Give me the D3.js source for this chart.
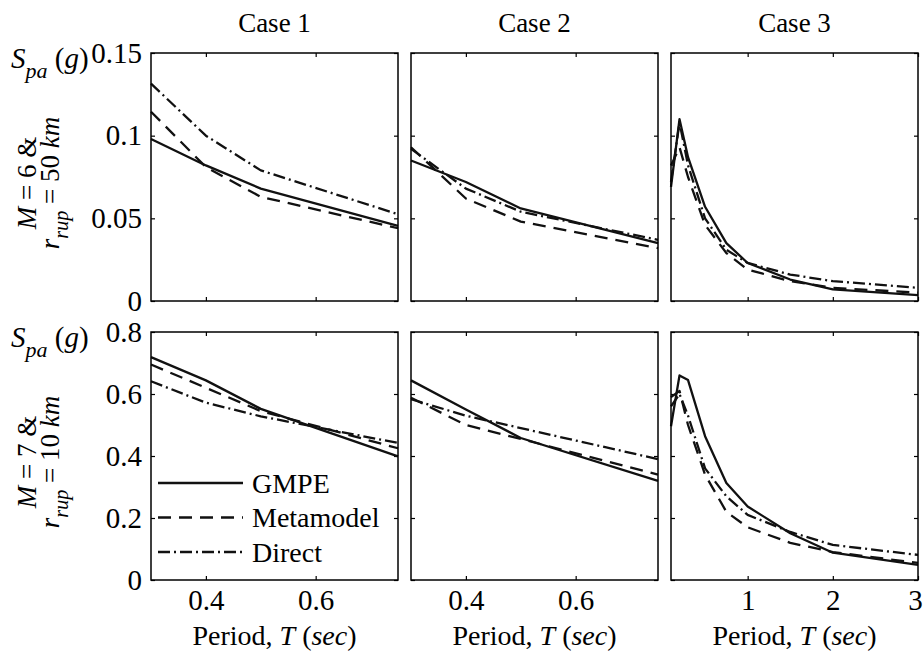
<!DOCTYPE html>
<html>
<head>
<meta charset="utf-8">
<script src="https://cdn.jsdelivr.net/npm/d3@7"></script>
<style>
  body { margin: 0; background: #fff; }
  svg text { font-family: "Liberation Serif", "Times New Roman", Times, "DejaVu Serif", serif; fill: #000; }
</style>
</head>
<body>
<svg id="chart" width="924" height="656"></svg>
<script>
// periods (sec)
var periodsShort = [0.3, 0.4, 0.5, 0.75];
var periodsLong = [0.1, 0.2, 0.3, 0.5, 0.75, 1, 1.5, 2, 3];
var caseNames = ["Case 1", "Case 2", "Case 3"];
var seriesNames = ["GMPE", "Metamodel", "Direct"];

// M = 6 & r_rup = 50 km
var m6Case1Gmpe = [0.098, 0.082, 0.068, 0.0455];
var m6Case1Meta = [0.1145, 0.081, 0.063, 0.044];
var m6Case1Direct = [0.1315, 0.1, 0.079, 0.0525];
var m6Case2Gmpe = [0.085, 0.072, 0.056, 0.035];
var m6Case2Meta = [0.093, 0.062, 0.048, 0.032];
var m6Case2Direct = [0.092, 0.068, 0.054, 0.037];
var m6Case3Gmpe = [0.069, 0.11, 0.087, 0.057, 0.035, 0.023, 0.013, 0.007, 0.0036];
var m6Case3Meta = [0.082, 0.093, 0.075, 0.046, 0.029, 0.019, 0.012, 0.008, 0.005];
var m6Case3Direct = [0.072, 0.108, 0.082, 0.05, 0.031, 0.023, 0.016, 0.012, 0.008];

// M = 7 & r_rup = 10 km
var m7Case1Gmpe = [0.719, 0.644, 0.552, 0.399];
var m7Case1Meta = [0.695, 0.62, 0.545, 0.425];
var m7Case1Direct = [0.641, 0.572, 0.528, 0.442];
var m7Case2Gmpe = [0.644, 0.55, 0.458, 0.32];
var m7Case2Meta = [0.588, 0.5, 0.455, 0.34];
var m7Case2Direct = [0.583, 0.53, 0.49, 0.39];
var m7Case3Gmpe = [0.496, 0.66, 0.645, 0.464, 0.313, 0.237, 0.151, 0.088, 0.0485];
var m7Case3Meta = [0.59, 0.61, 0.5, 0.34, 0.22, 0.17, 0.12, 0.09, 0.055];
var m7Case3Direct = [0.56, 0.6, 0.53, 0.36, 0.27, 0.21, 0.155, 0.113, 0.081];

var yTicksTop = [0, 0.05, 0.1, 0.15];
var yTicksBottom = [0, 0.2, 0.4, 0.6, 0.8];
var xTicksShort = [0.4, 0.6];
var xTicksLong = [1, 2, 3];

var svg = d3.select("#chart");
var pw = 247, ph = 248;
var colX = [151, 411, 671];
var rowY = [53, 332];
var dashes = [null, "13,8", "12,4,2,4"];
var serif = '"Liberation Serif", "Times New Roman", Times, "DejaVu Serif", serif';

var xShort = d3.scaleLinear().domain([0.3, 0.75]).range([0, pw]);
var xLong = d3.scaleLinear().domain([0.1, 3]).range([0, pw]);
var yTop = d3.scaleLinear().domain([0, 0.15]).range([ph, 0]);
var yBot = d3.scaleLinear().domain([0, 0.8]).range([ph, 0]);

var rows = [
    { y: yTop, ticks: yTicksTop, data: [
        [m6Case1Gmpe, m6Case1Meta, m6Case1Direct],
        [m6Case2Gmpe, m6Case2Meta, m6Case2Direct],
        [m6Case3Gmpe, m6Case3Meta, m6Case3Direct]] },
    { y: yBot, ticks: yTicksBottom, data: [
        [m7Case1Gmpe, m7Case1Meta, m7Case1Direct],
        [m7Case2Gmpe, m7Case2Meta, m7Case2Direct],
        [m7Case3Gmpe, m7Case3Meta, m7Case3Direct]] }
];

rows.forEach(function(row, r) {
    for (var c = 0; c < 3; c++) {
        var x = c < 2 ? xShort : xLong;
        var xt = c < 2 ? xTicksShort : xTicksLong;
        var periods = c < 2 ? periodsShort : periodsLong;
        var y = row.y;

        var g = svg.append("g")
            .attr("transform", "translate(" + colX[c] + "," + rowY[r] + ")");

        // inward ticks on all four sides
        var fmt = function(d) { return String(d); };
        var ax = [
            { a: d3.axisBottom(x).tickValues(xt), t: "translate(0," + ph + ")", lab: r === 1 },
            { a: d3.axisTop(x).tickValues(xt), t: "translate(0,0)", lab: false },
            { a: d3.axisLeft(y).tickValues(row.ticks), t: "translate(0,0)", lab: c === 0 },
            { a: d3.axisRight(y).tickValues(row.ticks), t: "translate(" + pw + ",0)", lab: false }
        ];
        ax.forEach(function(o) {
            var ag = g.append("g")
                .attr("transform", o.t)
                .call(o.a.tickSizeInner(-4).tickSizeOuter(0).tickPadding(o.lab ? 9 : 0)
                    .tickFormat(o.lab ? fmt : ""));
            ag.attr("font-family", serif).attr("font-size", 29);
            ag.select(".domain").remove();
            ag.selectAll("line").attr("stroke", "#000").attr("stroke-width", 1.2);
            ag.selectAll("text").attr("fill", "#000");
        });

        // the last label sits on the page edge; nudge it so it stays readable
        if (r === 1 && c === 2) {
            g.selectAll(".tick text")
                .filter(function(d) { return d === 3; })
                .attr("dx", -3);
        }

        var line = d3.line()
            .x(function(d, i) { return x(periods[i]); })
            .y(function(d) { return y(d); });

        row.data[c].forEach(function(vals, s) {
            g.append("path")
                .datum(vals)
                .attr("d", line)
                .attr("fill", "none")
                .attr("stroke", "#111")
                .attr("stroke-width", 2.3)
                .attr("stroke-linejoin", "round")
                .attr("stroke-dasharray", dashes[s]);
        });

        g.append("rect")
            .attr("width", pw)
            .attr("height", ph)
            .attr("fill", "none")
            .attr("stroke", "#000")
            .attr("stroke-width", 1.5);

        if (r === 1) {
            var xl = g.append("text")
                .attr("x", pw / 2)
                .attr("y", 313)
                .attr("text-anchor", "middle")
                .style("font-size", "28px");
            xl.append("tspan").text("Period, ");
            xl.append("tspan").style("font-style", "italic").text("T");
            xl.append("tspan").text(" (");
            xl.append("tspan").style("font-style", "italic").text("sec");
            xl.append("tspan").text(")");
        }
    }
});

// column titles
svg.selectAll(".case-title")
    .data(caseNames)
    .enter().append("text")
    .attr("class", "case-title")
    .attr("x", function(d, i) { return colX[i] + pw / 2; })
    .attr("y", 32)
    .attr("text-anchor", "middle")
    .style("font-size", "27px")
    .text(function(d) { return d; });

// S_pa (g) and row labels
var rowLabels = [["6", "50"], ["7", "10"]];
rowLabels.forEach(function(lab, r) {
    var top = rowY[r];
    var s = svg.append("text").attr("x", 11).attr("y", top + 15).style("font-size", "29px");
    s.append("tspan").style("font-style", "italic").text("S");
    s.append("tspan").style("font-style", "italic").style("font-size", "22px")
        .attr("dy", 10).text("pa");
    s.append("tspan").attr("dy", -10).text(" (");
    s.append("tspan").style("font-style", "italic").text("g");
    s.append("tspan").text(")");

    var cy = top + ph / 2 + 6;
    var l1 = svg.append("text")
        .attr("transform", "translate(36," + cy + ") rotate(-90)")
        .attr("text-anchor", "middle")
        .style("font-size", "27px");
    l1.append("tspan").style("font-style", "italic").text("M");
    l1.append("tspan").text(" = " + lab[0] + " &");

    var l2 = svg.append("text")
        .attr("transform", "translate(59," + cy + ") rotate(-90)")
        .attr("text-anchor", "middle")
        .style("font-size", "27px");
    l2.append("tspan").style("font-style", "italic").text("r");
    l2.append("tspan").style("font-style", "italic").style("font-size", "20px")
        .attr("dy", 9).text("rup");
    l2.append("tspan").attr("dy", -9).text(" = " + lab[1] + " ");
    l2.append("tspan").style("font-style", "italic").text("km");
});

// legend inside bottom-left panel
var leg = svg.append("g").attr("transform", "translate(158,483)");
seriesNames.forEach(function(name, i) {
    leg.append("line")
        .attr("x1", 0).attr("x2", 85)
        .attr("y1", i * 34.5).attr("y2", i * 34.5)
        .attr("stroke", "#111")
        .attr("stroke-width", 2.3)
        .attr("stroke-dasharray", dashes[i]);
    leg.append("text")
        .attr("x", 94)
        .attr("y", i * 34.5)
        .attr("dy", "0.35em")
        .style("font-size", "28px")
        .text(name);
});
</script>
</body>
</html>
